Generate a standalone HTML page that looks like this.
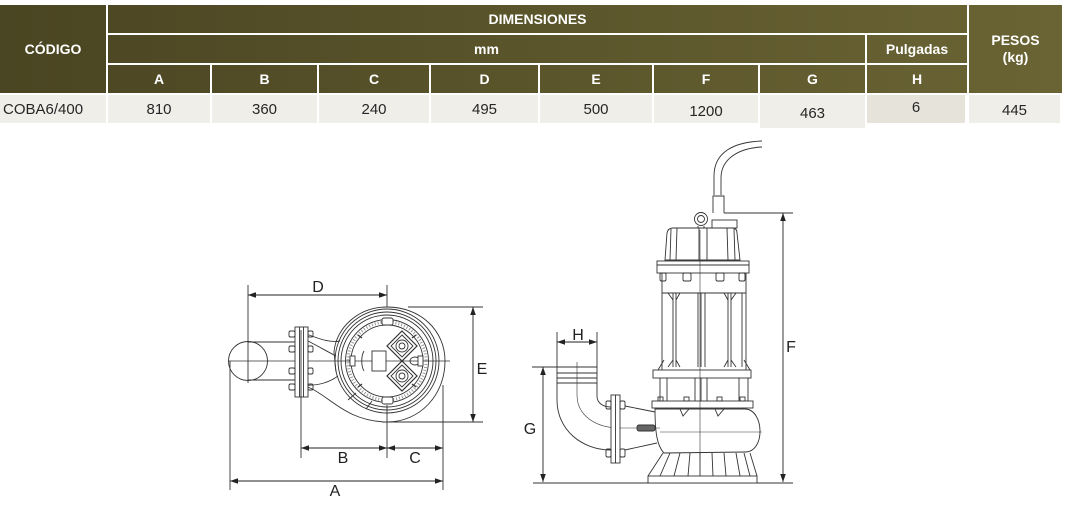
<!DOCTYPE html>
<html><head><meta charset="utf-8"><style>
html,body{margin:0;padding:0;background:#fff;}
body{width:1078px;height:509px;position:relative;overflow:hidden;font-family:"Liberation Sans",sans-serif;}
.h{position:absolute;color:#fff;font-weight:bold;font-size:14px;display:flex;align-items:center;justify-content:center;text-align:center;background:linear-gradient(90deg,#4a4522,#6a6434);background-size:1062px 100%;line-height:17px;}
.d{position:absolute;background:#efeee9;color:#262626;font-size:15px;display:flex;align-items:center;justify-content:center;height:28px;top:95px;}
svg{position:absolute;left:0;top:0;}
</style></head><body>
<div class="h" style="left:0;top:5px;width:106px;height:88px;background-position:0 0;">CÓDIGO</div>
<div class="h" style="left:108px;top:5px;width:859px;height:28px;background-position:-108px 0;">DIMENSIONES</div>
<div class="h" style="left:969px;top:5px;width:93px;height:88px;background-position:-969px 0;">PESOS<br>(kg)</div>
<div class="h" style="left:108px;top:35px;width:757px;height:28px;background-position:-108px 0;">mm</div>
<div class="h" style="left:867px;top:35px;width:100px;height:28px;background-position:-867px 0;">Pulgadas</div>
<div class="h" style="left:108px;top:65px;width:102px;height:28px;background-position:-108px 0;">A</div>
<div class="h" style="left:212px;top:65px;width:105px;height:28px;background-position:-212px 0;">B</div>
<div class="h" style="left:319px;top:65px;width:110px;height:28px;background-position:-319px 0;">C</div>
<div class="h" style="left:431px;top:65px;width:107px;height:28px;background-position:-431px 0;">D</div>
<div class="h" style="left:540px;top:65px;width:112px;height:28px;background-position:-540px 0;">E</div>
<div class="h" style="left:654px;top:65px;width:104px;height:28px;background-position:-654px 0;">F</div>
<div class="h" style="left:760px;top:65px;width:105px;height:28px;background-position:-760px 0;">G</div>
<div class="h" style="left:867px;top:65px;width:100px;height:28px;background-position:-867px 0;">H</div>

<div class="d" style="left:0;width:106px;justify-content:flex-start;padding-left:3px;box-sizing:border-box;">COBA6/400</div>
<div class="d" style="left:108px;width:102px;">810</div>
<div class="d" style="left:212px;width:105px;">360</div>
<div class="d" style="left:319px;width:110px;">240</div>
<div class="d" style="left:431px;width:107px;">495</div>
<div class="d" style="left:540px;width:112px;">500</div>
<div class="d" style="left:654px;width:104px;padding-top:4px;box-sizing:border-box;">1200</div>
<div class="d" style="left:760px;width:105px;height:33px;padding-top:3px;box-sizing:border-box;">463</div>
<div class="d" style="left:867px;width:98px;background:#e6e4da;padding-bottom:4px;box-sizing:border-box;">6</div>
<div class="d" style="left:969px;width:91px;padding-top:3px;box-sizing:border-box;">445</div>

<svg width="1078" height="509" viewBox="0 0 1078 509">
<defs>
<marker id="ar" viewBox="0 0 10 7" refX="10" refY="3.5" markerWidth="8" markerHeight="6" markerUnits="userSpaceOnUse" orient="auto-start-reverse"><path d="M0,0 L10,3.5 L0,7 z" fill="#222"/></marker>
</defs>
<!-- LEFT TOP VIEW -->
<g stroke="#333" stroke-width="0.9" fill="none">
<circle cx="248" cy="361" r="19.5"/>
<line x1="228" y1="361" x2="450" y2="361" stroke-width="0.7"/>
<line x1="248" y1="285" x2="248" y2="383"/>
<line x1="387" y1="285" x2="387" y2="307"/>
<line x1="387" y1="405" x2="387" y2="458"/>
<line x1="248" y1="342" x2="295" y2="342"/>
<line x1="248" y1="380" x2="295" y2="380"/>
<path d="M308,387 C330,396 345,421 387,422 C420,422 445,395 445,361 C445,330 420,307 387,307 C358,307 336,328 334,352 L336,372"/>
<path d="M306,334 C318,338 328,343 340,341"/>
<path d="M306,340 C318,346 328,352 336,356"/>
<path d="M306,385 C318,386 330,382 338,376"/>
<path d="M348,400 L356,393 M366,409 L372,401"/>
<circle cx="387" cy="361" r="52"/>
<circle cx="387" cy="361" r="49"/>
<circle cx="387" cy="361" r="46"/>
<circle cx="387" cy="361" r="41.5"/>
<circle cx="387" cy="361" r="36"/>
<circle cx="387" cy="361" r="39" stroke="#999" stroke-width="3" stroke-dasharray="1 2"/>
<g stroke-width="1.2">
<path d="M358,335 l4,3 M358,387 l4,-3 M416,335 l-4,3 M416,387 l-4,-3 M349,361 l4,0"/>
</g>
<rect x="295" y="327" width="13" height="70" fill="#fff"/>
<line x1="299.5" y1="327" x2="299.5" y2="397"/>
<line x1="303.5" y1="327" x2="303.5" y2="397"/>
<rect x="289" y="331" width="6" height="6" rx="1.5"/><rect x="308" y="331" width="5" height="6" rx="1.5"/>
<rect x="289" y="346" width="6" height="6" rx="1.5"/><rect x="308" y="346" width="5" height="6" rx="1.5"/>
<rect x="289" y="368" width="6" height="6" rx="1.5"/><rect x="308" y="368" width="5" height="6" rx="1.5"/>
<rect x="289" y="384" width="6" height="6" rx="1.5"/><rect x="308" y="384" width="5" height="6" rx="1.5"/>
<line x1="301" y1="330" x2="301" y2="458"/>
<rect x="372" y="351" width="14" height="20" fill="#fff"/>
<path d="M402,331 L417,346 L402,361 L387,346 Z" fill="#fff" stroke-width="1.2"/>
<path d="M402,335 L413,346 L402,357 L391,346 Z"/>
<circle cx="402" cy="346" r="6"/><circle cx="402" cy="346" r="3"/>
<path d="M402,361 L417,376 L402,391 L387,376 Z" fill="#fff" stroke-width="1.2"/>
<path d="M402,365 L413,376 L402,387 L391,376 Z"/>
<circle cx="402" cy="376" r="6"/><circle cx="402" cy="376" r="3"/>
<ellipse cx="415" cy="361" rx="5" ry="4"/>
<path d="M364,351 C361,356 361,366 364,371"/>
<rect x="382" y="318" width="11" height="7" rx="2" fill="#fff"/>
<rect x="382" y="397" width="11" height="7" rx="2" fill="#fff"/>
<rect x="418" y="356" width="5" height="10" fill="#fff"/>
<rect x="350" y="356" width="5" height="10" fill="#fff"/>
<line x1="443" y1="385" x2="443" y2="490"/>
<line x1="230" y1="361" x2="230" y2="490"/>
<line x1="408" y1="307" x2="483" y2="307"/>
<line x1="382" y1="422" x2="483" y2="422"/>
</g>
<g stroke="#222" stroke-width="0.9" fill="none">
<line x1="248" y1="295" x2="387" y2="295" marker-start="url(#ar)" marker-end="url(#ar)"/>
<line x1="301" y1="448" x2="387" y2="448" marker-start="url(#ar)" marker-end="url(#ar)"/>
<line x1="387" y1="448" x2="443" y2="448" marker-start="url(#ar)" marker-end="url(#ar)"/>
<line x1="230" y1="481" x2="443" y2="481" marker-start="url(#ar)" marker-end="url(#ar)"/>
<line x1="473" y1="307" x2="473" y2="422" marker-start="url(#ar)" marker-end="url(#ar)"/>
</g>
<g font-family="Liberation Sans, sans-serif" font-size="16" fill="#222" text-anchor="middle">
<text x="318" y="292">D</text>
<text x="482" y="374">E</text>
<text x="343" y="463">B</text>
<text x="415" y="463">C</text>
<text x="335" y="496">A</text>
</g>

<!-- RIGHT SIDE VIEW -->
<g stroke="#333" stroke-width="0.9" fill="none">
<path d="M714,195 L714,176 C714,152 734,142 762,141"/>
<path d="M721,195 L721,178 C721,158 740,148 762,147"/>
<path d="M713,213 L713,196 L724,196 L724,213" fill="#fff"/>
<line x1="724" y1="213" x2="793" y2="213"/>
<line x1="533" y1="483" x2="793" y2="483"/>
<circle cx="701" cy="219" r="6.5" fill="#fff"/><circle cx="701" cy="219" r="3.5"/>
<path d="M698,226 L698,260 M704,226 L704,260"/>
<rect x="712" y="220" width="25" height="8" fill="#fff"/>
<path d="M665,260 L667,233 Q668,228 673,228 L732,228 Q737,228 737,233 L740,260 Z" fill="#fff"/>
<path d="M677,228 L676,260 M699,228 L699,260 M707,228 L707,260 M727,228 L728,260 M671,229 L670,260 M734,229 L735,260"/>
<rect x="657" y="261" width="92" height="12" fill="#fff"/>
<line x1="657" y1="265" x2="749" y2="265"/>
<rect x="660" y="273" width="6" height="8" rx="1.5"/><rect x="683" y="273" width="8" height="8" rx="1.5"/><rect x="716" y="273" width="8" height="8" rx="1.5"/><rect x="739" y="273" width="6" height="8" rx="1.5"/>
<path d="M662,273 L662,370 M746,273 L746,370"/>
<line x1="662" y1="293" x2="746" y2="293"/>
<path d="M673,293 L673,367 M676,293 L676,367 M698,293 L698,367 M701,293 L701,367 M705,293 L705,367 M728,293 L728,367 M731,293 L731,367 M742,293 L742,367"/>
<path d="M668,293 L673,300 M680,293 L676,300 M724,293 L728,300 M736,293 L731,300 M668,367 L673,360 M680,367 L676,360 M724,367 L728,360 M736,367 L731,360 M658,370 L664,360 M750,370 L744,360"/>
<rect x="653" y="370" width="98" height="8" fill="#fff"/>
<path d="M660,378 L660,401 M748,378 L748,401 M667,378 L667,401 M695,378 L695,401 M701,378 L701,401 M707,378 L707,401 M739,378 L739,401"/>
<rect x="652" y="401" width="101" height="7" fill="#fff"/>
<rect x="658" y="397" width="5" height="4"/><rect x="684" y="397" width="5" height="4"/><rect x="717" y="397" width="5" height="4"/><rect x="740" y="397" width="5" height="4"/>
<path d="M655,409 L745,409 C764,409 766,452 745,452 L664,453 C657,446 655,432 655,409 Z" fill="#fff"/>
<path d="M680,409 L683,416 L689,409 M715,409 L718,416 L724,409"/>
<line x1="660" y1="432" x2="762" y2="432" stroke-width="0.6"/>
<line x1="700" y1="230" x2="700" y2="460" stroke-width="0.6"/>
<path d="M663,453 L648,476 M750,453 L757,476 M670,453 L660,476 M680,453 L674,476 M690,453 L688,476 M700,453 L700,476 M712,453 L713,476 M724,453 L726,476 M736,453 L740,476 M744,453 L750,476"/>
<rect x="648" y="476" width="109" height="7" fill="#fff"/>
<path d="M557,367 L557,400 C557,430 582,450 611,450"/>
<path d="M597,367 L597,396 C597,403 603,407 611,407"/>
<path d="M557,367 L597,367 M557,373 L597,373 M557,378 L597,378 M557,383 L597,383"/>
<path d="M577,362 L577,395 C577,415 595,428 620,428 L660,428" stroke-width="0.6"/>
<rect x="611" y="395" width="9" height="68" fill="#fff"/>
<line x1="615.5" y1="395" x2="615.5" y2="463"/>
<rect x="606" y="401" width="5" height="8" rx="1.5"/><rect x="620" y="401" width="5" height="8" rx="1.5"/>
<rect x="606" y="449" width="5" height="8" rx="1.5"/><rect x="620" y="449" width="5" height="8" rx="1.5"/>
<path d="M625,406 L655,412 M625,450 L657,443"/>
<rect x="637" y="425" width="18" height="6" rx="2" fill="#666"/>
<line x1="557" y1="332" x2="557" y2="367"/>
<line x1="597" y1="332" x2="597" y2="367"/>
<line x1="532" y1="367" x2="557" y2="367"/>
</g>
<g stroke="#222" stroke-width="0.9" fill="none">
<line x1="783" y1="213" x2="783" y2="482" marker-start="url(#ar)" marker-end="url(#ar)"/>
<line x1="557" y1="342" x2="597" y2="342" marker-start="url(#ar)" marker-end="url(#ar)"/>
<line x1="543" y1="367" x2="543" y2="482" marker-start="url(#ar)" marker-end="url(#ar)"/>
</g>
<g font-family="Liberation Sans, sans-serif" font-size="16" fill="#222" text-anchor="middle">
<text x="791" y="352">F</text>
<text x="578" y="340">H</text>
<text x="530" y="434">G</text>
</g>
</svg>
</body></html>
